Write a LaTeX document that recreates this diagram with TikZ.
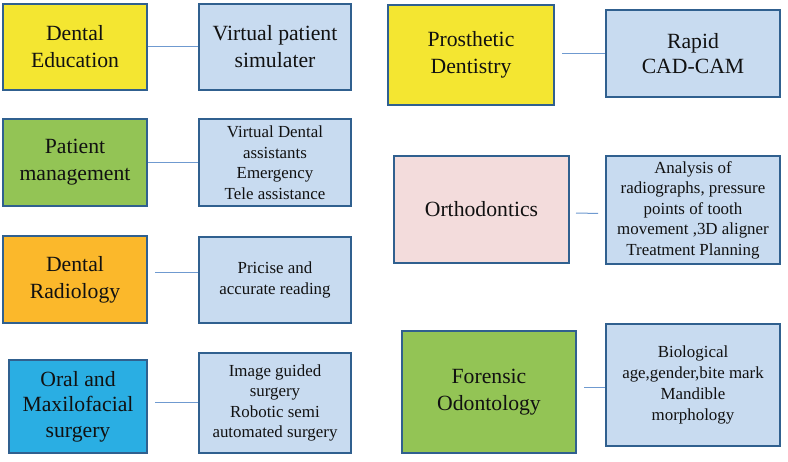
\documentclass[tikz,border=0pt]{standalone}
\usepackage{fontspec}
\setmainfont{Liberation Serif}
\definecolor{rim}{HTML}{30608F}
\definecolor{wire}{HTML}{6F9AD0}
\definecolor{pale}{HTML}{C8DBF0}
\definecolor{lemon}{HTML}{F4E631}
\definecolor{leaf}{HTML}{93C455}
\definecolor{amber}{HTML}{FBB82B}
\definecolor{sky}{HTML}{2AAEE3}
\definecolor{blush}{HTML}{F3DCDC}
\definecolor{ink}{HTML}{111111}
\tikzset{
  field/.style={draw=rim, line width=2pt, align=center, text=ink, inner sep=2pt,
    font=\fontsize{21.7}{27}\selectfont},
  use/.style={field, fill=pale, font=\fontsize{16.9}{20.5}\selectfont},
  link/.style={draw=wire, line width=1pt}
}
\begin{document}
\begin{tikzpicture}[x=1pt,y=1pt]
  \useasboundingbox (0,0) rectangle (788,-462);
  % left column
  \node (edu)  [field, fill=lemon, minimum width=144, minimum height=86] at (75,-47) {Dental\\Education};
  \node (sim)  [use, font=\fontsize{21.7}{27}\selectfont, minimum width=152, minimum height=86] at (275,-47) {Virtual patient\\simulater};
  \node (pat)  [field, fill=leaf, minimum width=144, minimum height=87] at (75,-162.5) {Patient\\management};
  \node (ast)  [use, minimum width=152, minimum height=87] at (275,-162.5) {Virtual Dental\\assistants\\Emergency\\Tele assistance};
  \node (rad)  [field, fill=amber, minimum width=144, minimum height=87] at (75,-279.5) {Dental\\Radiology};
  \node (read) [use, minimum width=152, minimum height=86] at (275,-280) {Pricise and\\accurate reading};
  \node (oral) [field, fill=sky, font=\fontsize{21.7}{25.5}\selectfont, minimum width=138, minimum height=93] at (78,-406.5) {Oral and\\Maxilofacial\\surgery};
  \node (img)  [use, minimum width=152, minimum height=100] at (275,-403) {Image guided\\surgery\\Robotic semi\\automated surgery};
  % right column
  \node (pros) [field, fill=lemon, minimum width=166, minimum height=100] at (471,-55) {Prosthetic\\Dentistry};
  \node (cad)  [use, font=\fontsize{21.7}{25.5}\selectfont, minimum width=174, minimum height=87] at (693,-53.5) {Rapid\\CAD-CAM};
  \node (orth) [field, fill=blush, minimum width=175, minimum height=107] at (481.5,-209.5) {Orthodontics};
  \node (ana)  [use, minimum width=174, minimum height=108] at (693,-210) {Analysis of\\radiographs, pressure\\points of tooth\\movement ,3D aligner\\Treatment Planning};
  \node (fore) [field, fill=leaf, minimum width=174, minimum height=122] at (489,-392) {Forensic\\Odontology};
  \node (bio)  [use, font=\fontsize{16.9}{21}\selectfont, minimum width=174, minimum height=122] at (693,-385) {Biological\\age,gender,bite mark\\Mandible\\morphology};
  % link ends
  \coordinate (readin) at ([yshift=7pt]read.west);
  \coordinate (bioin) at ([yshift=-3pt]bio.west);
  % links
  \path[link] (edu) edge (sim)
              (pat) edge (ast)
              (rad.east |- readin) edge[shorten <=7pt] (readin)
              (img.west) edge[shorten >=7pt] (oral.east |- img.west)
              (cad.west) edge[shorten >=7pt] (pros.east |- cad.west)
              ([yshift=-3.5pt]orth.east) edge[shorten <=6pt, shorten >=7pt] ([yshift=-3.5pt]ana.west)
              (bioin) edge[shorten >=7pt] (fore.east |- bioin)
              ;
\end{tikzpicture}
\end{document}
